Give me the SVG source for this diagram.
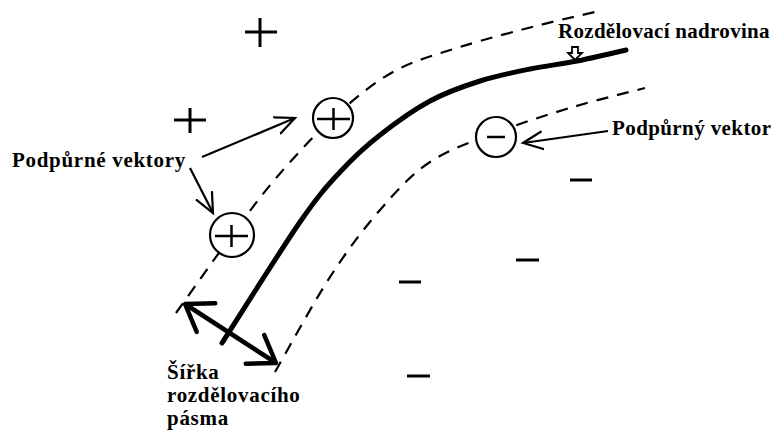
<svg xmlns="http://www.w3.org/2000/svg" width="777" height="430" viewBox="0 0 777 430">
<style>
.lbl{font-family:"Liberation Serif","Times New Roman",serif;font-weight:bold;font-size:21px;letter-spacing:0.7px;fill:#000}
.sign{stroke:#000;stroke-width:3;fill:none}
.inner{stroke:#000;stroke-width:2.5;fill:none}
.sv{fill:#fff;stroke:#000;stroke-width:2.2}
.dash{fill:none;stroke:#000;stroke-width:2.2;stroke-dasharray:12 9}
.thin{fill:none;stroke:#000;stroke-width:2.2;marker-end:url(#open)}
</style>
<defs>
<marker id="open" markerUnits="userSpaceOnUse" markerWidth="24" markerHeight="24" viewBox="0 -12 24 24" refX="20" refY="0" orient="auto">
<path d="M0,-9 L20,0 L0,9" fill="none" stroke="#000" stroke-width="2.2"/>
</marker>
<marker id="thick" markerUnits="userSpaceOnUse" markerWidth="34" markerHeight="44" viewBox="-4 -22 34 44" refX="25" refY="0" orient="auto-start-reverse">
<path d="M0,-17 L25,0 L0,17" fill="none" stroke="#000" stroke-width="4.5" stroke-linecap="round" stroke-linejoin="round"/>
</marker>
</defs>
<rect width="777" height="430" fill="#fff"/>

<g id="margins">
<path class="dash" d="M176,313 C185.3,300 215.2,257.7 232,235 C248.8,212.3 260.2,196.5 277,177 C293.8,157.5 313.7,135.5 333,118 C352.3,100.5 371.8,83.8 393,72 C414.2,60.2 435.5,54.8 460,47 C484.5,39.2 517.5,30.8 540,25 C562.5,19.2 585.8,14.2 595,12"/>
<path class="dash" d="M275,372 C284.2,356.2 312.5,304 330,277 C347.5,250 363.3,229.2 380,210 C396.7,190.8 410.8,174.8 430,162 C449.2,149.2 471.2,142.2 495,133 C518.8,123.8 547.8,114.5 573,107 C598.2,99.5 633,91.2 645,88"/>
</g>

<g id="hyperplane">
<path d="M222,343 C235,322.8 280.3,250.5 300,222 C319.7,193.5 326.7,186.5 340,172 C353.3,157.5 365,146.8 380,135 C395,123.2 413.3,110 430,101 C446.7,92 463.3,86.3 480,81 C496.7,75.7 513.8,72.3 530,69 C546.2,65.7 561,64.2 577,61 C593,57.8 617.8,51.8 626,50" fill="none" stroke="#000" stroke-width="5" stroke-linecap="round"/>
</g>

<g id="points">
<path class="sign" d="M245,32 H277 M260,18 V47"/>
<path class="sign" d="M174,120 H206 M190,108 V133"/>
<path class="sign" d="M570,180 H592"/>
<path class="sign" d="M516,260 H539"/>
<path class="sign" d="M399,282 H421"/>
<path class="sign" d="M407,376 H430"/>
</g>

<g id="sv-plus-1">
<circle class="sv" cx="333" cy="118" r="20"/>
<path class="inner" d="M317,119 H350 M333.5,108 V130"/>
</g>
<g id="sv-plus-2">
<circle class="sv" cx="232" cy="235" r="22"/>
<path class="inner" d="M215,236 H248 M231.5,225 V247"/>
</g>
<g id="sv-minus">
<circle class="sv" cx="496" cy="137" r="20"/>
<path class="inner" d="M487,137 H505"/>
</g>

<g id="connectors">
<line class="thin" x1="202" y1="157" x2="295" y2="118"/>
<line class="thin" x1="190" y1="168" x2="213" y2="213"/>
<line class="thin" x1="608" y1="131" x2="523" y2="143"/>
<line x1="185" y1="304" x2="276" y2="363" stroke="#000" stroke-width="4.5" marker-start="url(#thick)" marker-end="url(#thick)"/>
<path d="M572,47 H578 V53 H582 L575,60 L568,53 H572 Z" fill="#fff" stroke="#000" stroke-width="1.8" stroke-linejoin="miter"/>
</g>

<g id="labels">
<text class="lbl" x="12" y="167">Podpůrné vektory</text>
<text class="lbl" x="558" y="38" style="letter-spacing:0.3px">Rozdělovací nadrovina</text>
<text class="lbl" x="612" y="135" style="letter-spacing:0.4px">Podpůrný vektor</text>
<text class="lbl" x="167" y="379">Šířka</text>
<text class="lbl" x="167" y="402">rozdělovacího</text>
<text class="lbl" x="167" y="425">pásma</text>
</g>
</svg>
